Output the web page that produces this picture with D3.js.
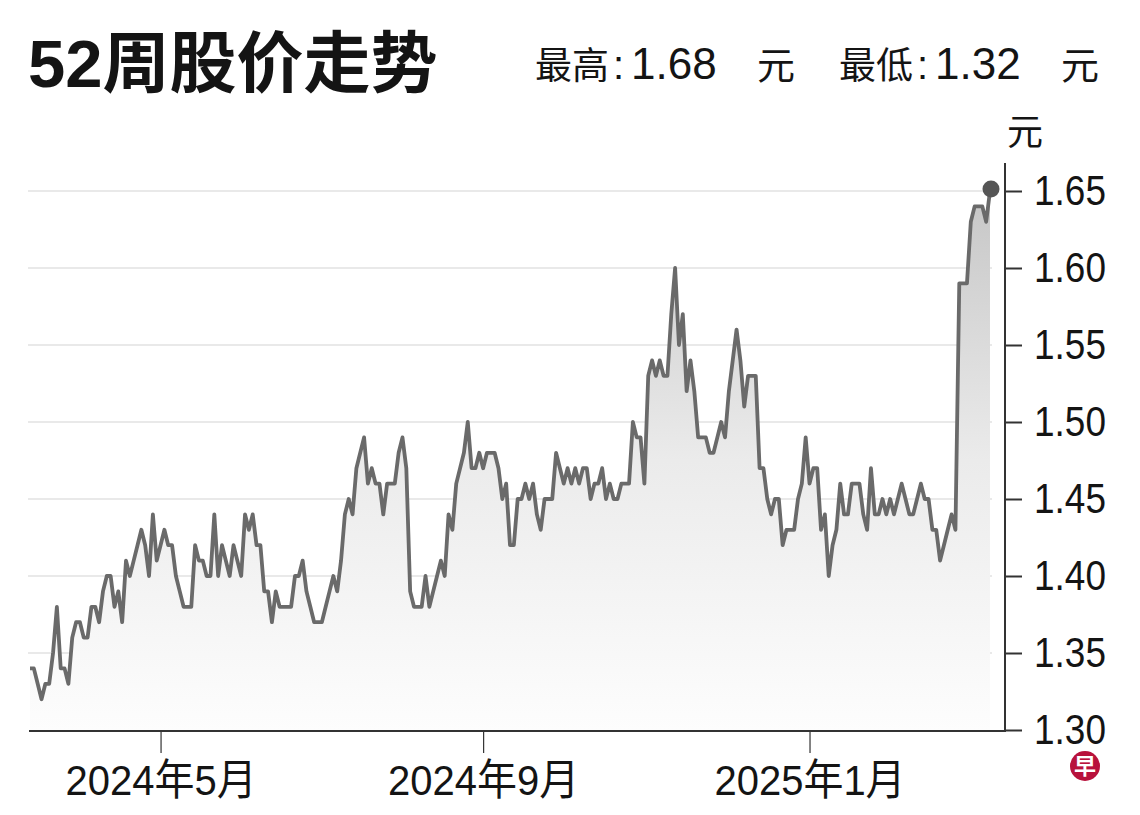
<!DOCTYPE html>
<html>
<head>
<meta charset="utf-8">
<script src="https://cdn.jsdelivr.net/npm/d3@7"></script>
<style>
body { margin: 0; background: #fff; }
text { font-family: "Liberation Sans", Arial, "Noto Sans CJK SC", sans-serif; fill: #141414; }
</style>
</head>
<body>
<script>
// closing prices, one per trading day (about 52 weeks)
var prices = [
    1.34, 1.34, 1.33, 1.32, 1.33, 1.33, 1.35, 1.38, 1.34, 1.34,
    1.33, 1.36, 1.37, 1.37, 1.36, 1.36, 1.38, 1.38, 1.37, 1.39,
    1.40, 1.40, 1.38, 1.39, 1.37, 1.41, 1.40, 1.41, 1.42, 1.43,
    1.42, 1.40, 1.44, 1.41, 1.42, 1.43, 1.42, 1.42, 1.40, 1.39,
    1.38, 1.38, 1.38, 1.42, 1.41, 1.41, 1.40, 1.40, 1.44, 1.40,
    1.42, 1.41, 1.40, 1.42, 1.41, 1.40, 1.44, 1.43, 1.44, 1.42,
    1.42, 1.39, 1.39, 1.37, 1.39, 1.38, 1.38, 1.38, 1.38, 1.40,
    1.40, 1.41, 1.39, 1.38, 1.37, 1.37, 1.37, 1.38, 1.39, 1.40,
    1.39, 1.41, 1.44, 1.45, 1.44, 1.47, 1.48, 1.49, 1.46, 1.47,
    1.46, 1.46, 1.44, 1.46, 1.46, 1.46, 1.48, 1.49, 1.47, 1.39,
    1.38, 1.38, 1.38, 1.40, 1.38, 1.39, 1.40, 1.41, 1.40, 1.44,
    1.43, 1.46, 1.47, 1.48, 1.50, 1.47, 1.47, 1.48, 1.47, 1.48,
    1.48, 1.48, 1.47, 1.45, 1.46, 1.42, 1.42, 1.45, 1.45, 1.46,
    1.45, 1.46, 1.44, 1.43, 1.45, 1.45, 1.45, 1.48, 1.47, 1.46,
    1.47, 1.46, 1.47, 1.46, 1.47, 1.47, 1.45, 1.46, 1.46, 1.47,
    1.45, 1.46, 1.45, 1.45, 1.46, 1.46, 1.46, 1.50, 1.49, 1.49,
    1.46, 1.53, 1.54, 1.53, 1.54, 1.53, 1.53, 1.57, 1.60, 1.55,
    1.57, 1.52, 1.54, 1.52, 1.49, 1.49, 1.49, 1.48, 1.48, 1.49,
    1.50, 1.49, 1.52, 1.54, 1.56, 1.54, 1.51, 1.53, 1.53, 1.53,
    1.47, 1.47, 1.45, 1.44, 1.45, 1.45, 1.42, 1.43, 1.43, 1.43,
    1.45, 1.46, 1.49, 1.46, 1.47, 1.47, 1.43, 1.44, 1.40, 1.42,
    1.43, 1.46, 1.44, 1.44, 1.46, 1.46, 1.46, 1.44, 1.43, 1.47,
    1.44, 1.44, 1.45, 1.44, 1.45, 1.44, 1.45, 1.46, 1.45, 1.44,
    1.44, 1.45, 1.46, 1.45, 1.45, 1.43, 1.43, 1.41, 1.42, 1.43,
    1.44, 1.43, 1.59, 1.59, 1.59, 1.63, 1.64, 1.64, 1.64, 1.63,
    1.65
];

// x axis: trading-day index of the first session of each labelled month
var monthIndex = [34, 118, 203];
var monthLabels = ["2024年5月", "2024年9月", "2025年1月"];

var priceTicks = [1.30, 1.35, 1.40, 1.45, 1.50, 1.55, 1.60, 1.65];

var title = "52周股价走势";
var highLabel = ["最高", "1.68"];
var lowLabel = ["最低", "1.32"];
var unit = "元";

var svg = d3.select("body")
    .append("svg")
    .attr("width", 1140)
    .attr("height", 815);

var x = d3.scaleLinear()
    .domain([0, prices.length - 1])
    .range([30, 990]);

var y = d3.scaleLinear()
    .domain([1.30, 1.65])
    .range([730, 191]);

// gradient under the line
var grad = svg.append("defs").append("linearGradient")
    .attr("id", "fade")
    .attr("gradientUnits", "userSpaceOnUse")
    .attr("x1", 0).attr("y1", y(1.65))
    .attr("x2", 0).attr("y2", y(1.30));
grad.append("stop").attr("offset", 0).attr("stop-color", "#c6c6c6");
grad.append("stop").attr("offset", 0.5).attr("stop-color", "#ebebeb");
grad.append("stop").attr("offset", 1).attr("stop-color", "#fdfdfd");

// gridlines
svg.selectAll(".grid")
    .data(priceTicks.slice(1))
    .enter()
    .append("line")
    .attr("class", "grid")
    .attr("x1", 28)
    .attr("x2", 992)
    .attr("y1", d => y(d))
    .attr("y2", d => y(d))
    .attr("stroke", "#e9e9e9")
    .attr("stroke-width", 2);

var area = d3.area()
    .x((d, i) => x(i))
    .y0(y(1.30))
    .y1(d => y(d));

svg.append("path")
    .datum(prices)
    .attr("d", area)
    .attr("fill", "url(#fade)");

var line = d3.line()
    .x((d, i) => x(i))
    .y(d => y(d));

svg.append("path")
    .datum(prices)
    .attr("d", line)
    .attr("fill", "none")
    .attr("stroke", "#6a6a6a")
    .attr("stroke-width", 3.8)
    .attr("stroke-linejoin", "round");

// last price marker
var last = prices.length - 1;
svg.append("circle")
    .attr("cx", x(last) + 1)
    .attr("cy", y(prices[last]) - 2)
    .attr("r", 8.5)
    .attr("fill", "#555");

// x axis
var xAxis = svg.append("g")
    .attr("transform", "translate(0,731)")
    .call(d3.axisBottom(x)
        .tickValues(monthIndex)
        .tickFormat((d, i) => monthLabels[i])
        .tickSize(22)
        .tickPadding(11));
xAxis.select(".domain").remove();
xAxis.selectAll(".tick line").attr("stroke", "#333").attr("stroke-width", 1.2);
xAxis.selectAll(".tick text")
    .attr("font-size", 43)
    .attr("font-family", null)
    .attr("transform", "scale(0.93,1)")
    .attr("fill", "#141414");
xAxis.append("line")
    .attr("x1", 29).attr("x2", 1006)
    .attr("y1", 0).attr("y2", 0)
    .attr("stroke", "#333")
    .attr("stroke-width", 2);

// y axis on the right
var yAxis = svg.append("g")
    .attr("transform", "translate(1005,0)")
    .call(d3.axisRight(y)
        .tickValues(priceTicks)
        .tickFormat(d3.format(".2f"))
        .tickSize(17)
        .tickPadding(12));
yAxis.select(".domain").remove();
yAxis.selectAll(".tick line").attr("stroke", "#333").attr("stroke-width", 2);
yAxis.selectAll(".tick text")
    .attr("font-size", 43)
    .attr("font-family", null)
    .attr("x", 29 / 0.86)
    .attr("transform", "scale(0.86,1)")
    .attr("fill", "#141414");
yAxis.append("line")
    .attr("x1", 0).attr("x2", 0)
    .attr("y1", 163).attr("y2", 732)
    .attr("stroke", "#333")
    .attr("stroke-width", 2);

svg.append("text")
    .attr("x", 1025)
    .attr("y", 145)
    .attr("text-anchor", "middle")
    .attr("font-size", 36)
    .text(unit);

// title and high / low
svg.append("text")
    .attr("x", 28)
    .attr("y", 87)
    .attr("font-size", 67)
    .attr("font-weight", "bold")
    .attr("fill", "#000")
    .text(title);

function summary(parts, x0) {
    var t = svg.append("text").attr("y", 79);
    t.append("tspan").attr("x", x0).attr("font-size", 37).text(parts[0]);
    t.append("tspan").attr("x", x0 + 78).attr("font-size", 40).text(":");
    t.append("tspan").attr("x", x0 + 96).attr("font-size", 44).text(parts[1]);
    t.append("tspan").attr("x", x0 + 222).attr("font-size", 38).text(unit);
}
summary(highLabel, 535);
summary(lowLabel, 839);

// logo
svg.append("circle")
    .attr("cx", 1085)
    .attr("cy", 766)
    .attr("r", 15)
    .attr("fill", "#b8123c");
svg.append("text")
    .attr("x", 1085)
    .attr("y", 774)
    .attr("text-anchor", "middle")
    .attr("font-size", 22)
    .attr("font-weight", "bold")
    .style("fill", "#fff")
    .text("早");
</script>
</body>
</html>
